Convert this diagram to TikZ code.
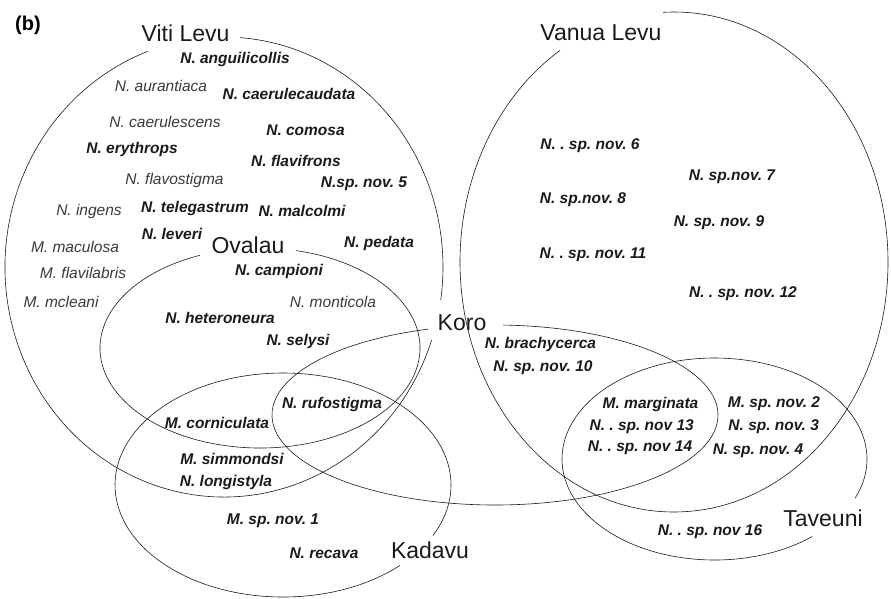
\documentclass[tikz,border=0pt]{standalone}
\usepackage{fontspec}
\setmainfont{Liberation Sans}
\usepackage{tikz}
\definecolor{ink}{HTML}{1A1A1A}
\definecolor{soft}{HTML}{3A3A3A}
\frenchspacing

\begin{document}
\begin{tikzpicture}[x=1pt,y=1pt,
  rim/.style={draw=ink,line width=0.6pt},
  isle/.style={inner sep=0pt,text=ink,font=\fontsize{23}{25}\selectfont},
  spb/.style={inner sep=0pt,text=ink,font=\fontsize{15.5}{18}\selectfont\bfseries\itshape},
  spl/.style={inner sep=0pt,text=soft,font=\fontsize{15.5}{18}\selectfont\itshape}]
\useasboundingbox (0,0) rectangle (891,-598);
% island centres
\coordinate (viti) at (224,-267);
\coordinate (oval) at (260,-348);
\coordinate (koro) at (495,-415);
\coordinate (kada) at (283,-485);
\coordinate (vanua) at (674,-262);
\coordinate (tave) at (714.5,-459);
% outlines, broken where the names sit
\draw[rim] ([shift={(85.8:219pt and 230pt)}]viti) arc[start angle=85.8,end angle=-8.2,x radius=219pt,y radius=230pt];
\draw[rim] ([shift={(-18.5:219pt and 230pt)}]viti) arc[start angle=-18.5,end angle=-249.7,x radius=219pt,y radius=230pt];
\draw[rim] ([shift={(77:160pt and 100pt)}]oval) arc[start angle=77,end angle=-248,x radius=160pt,y radius=100pt];
\draw[rim] ([shift={(88:223pt and 90pt)}]koro) arc[start angle=88,end angle=-252.5,x radius=223pt,y radius=90pt];
\draw[rim] ([shift={(-45.9:168pt and 112pt)}]kada) arc[start angle=-45.9,end angle=-386.8,x radius=168pt,y radius=112pt];
\draw[rim] ([shift={(92.9:214pt and 250pt)}]vanua) arc[start angle=92.9,end angle=-237.8,x radius=214pt,y radius=250pt];
\draw[rim] ([shift={(-50.1:152.5pt and 101pt)}]tave) arc[start angle=-50.1,end angle=-382.7,x radius=152.5pt,y radius=101pt];
% panel letter and island names
\node[inner sep=0pt,font=\fontsize{20}{22}\selectfont\bfseries] (panel) at (28,-25) {(b)};
\node[isle] (vitiname) at (185.5,-33) {Viti Levu};
\node[isle] (ovalname) at (248,-245) {Ovalau};
\node[isle] (koroname) at (462,-323) {Koro};
\node[isle] (kadaname) at (430,-550) {Kadavu};
\node[isle] (vanuaname) at (601,-33) {Vanua Levu};
\node[isle] (tavename) at (823,-518) {Taveuni};
% Viti Levu
\node[spb] (angu) at (235,-59) {N. anguilicollis};
\node[spl] (aura) at (161,-86) {N. aurantiaca};
\node[spb] (caeru) at (289,-94) {N. caerulecaudata};
\node[spl] (caes) at (165,-122) {N. caerulescens};
\node[spb] (como) at (305.5,-130) {N. comosa};
\node[spb] (eryt) at (132,-149) {N. erythrops};
\node[spb] (flfr) at (296,-161) {N. flavifrons};
\node[spl] (flst) at (174.5,-180) {N. flavostigma};
\node[spb] (nov5) at (364,-184) {N.sp. nov. 5};
\node[spl] (inge) at (89,-211) {N. ingens};
\node[spb] (tele) at (195,-208) {N. telegastrum};
\node[spb] (malc) at (302,-211) {N. malcolmi};
\node[spl] (macu) at (75,-247) {M. maculosa};
\node[spb] (leve) at (172,-234) {N. leveri};
\node[spb] (peda) at (379,-243) {N. pedata};
\node[spl] (flla) at (83,-273) {M. flavilabris};
\node[spl] (mcle) at (61,-302) {M. mcleani};
% Ovalau
\node[spb] (camp) at (279,-271) {N. campioni};
\node[spl] (mont) at (333,-302) {N. monticola};
\node[spb] (hete) at (220,-318) {N. heteroneura};
\node[spb] (sely) at (298,-341) {N. selysi};
\node[spb] (rufo) at (332,-404) {N. rufostigma};
\node[spb] (corn) at (217,-423) {M. corniculata};
\node[spb] (simm) at (232,-459) {M. simmondsi};
\node[spb] (long) at (226,-482) {N. longistyla};
% Kadavu
\node[spb] (nov1) at (273,-521) {M. sp. nov. 1};
\node[spb] (reca) at (324,-553) {N. recava};
% Vanua Levu
\node[spb] (nov6) at (590,-146) {N. . sp. nov. 6};
\node[spb] (nov7) at (732,-177) {N. sp.nov. 7};
\node[spb] (nov8) at (583,-200) {N. sp.nov. 8};
\node[spb] (nov9) at (719,-223) {N. sp. nov. 9};
\node[spb] (nov11) at (593,-255) {N. . sp. nov. 11};
\node[spb] (nov12) at (743,-294) {N. . sp. nov. 12};
% Koro
\node[spb] (brac) at (540.5,-344) {N. brachycerca};
\node[spb] (nov10) at (543,-368) {N. sp. nov. 10};
% Taveuni
\node[spb] (marg) at (650.5,-404) {M. marginata};
\node[spb] (nov13) at (641.7,-427) {N. . sp. nov 13};
\node[spb] (nov14) at (640,-448) {N. . sp. nov 14};
\node[spb] (nov2) at (774,-404) {M. sp. nov. 2};
\node[spb] (nov3) at (773.7,-427) {N. sp. nov. 3};
\node[spb] (nov4) at (758,-451) {N. sp. nov. 4};
\node[spb] (nov16) at (710,-532) {N. . sp. nov 16};
\end{tikzpicture}
\end{document}
